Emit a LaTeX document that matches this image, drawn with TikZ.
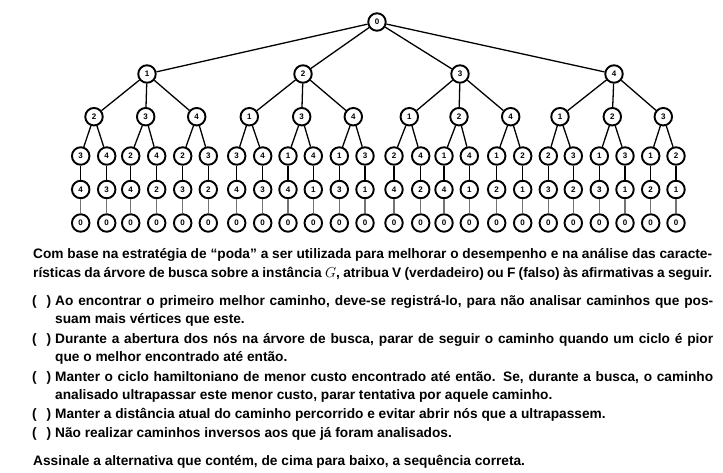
\documentclass[tikz,border=0pt]{standalone}
\usepackage{fontspec}
\setmainfont{Liberation Sans}
\begin{document}
\begin{tikzpicture}[x=1pt,y=-1pt,
  nd/.style={circle,draw,line width=1.9pt,minimum size=17.5pt,inner sep=0pt,font=\fontsize{8}{8}\selectfont\bfseries},
  ed/.style={line width=1.3pt},
  edl/.style={line width=1.1pt,black!55},
  txt/.style={anchor=base west,inner sep=0pt,font=\fontsize{13.7}{16}\selectfont\bfseries}]
\useasboundingbox[fill=white] (0,0) rectangle (723,472);
% tree
\node[nd] (r) at (377,22) {0};
\foreach \x/\l [count=\i] in {147/1,303/2,460/3,614/4}
  \node[nd] (a\i) at (\x,74) {\l};
\foreach \x/\l [count=\i] in {94/2,145.7/3,196.7/4,249.3/1,301.7/3,353.3/4,409.3/1,459/2,510.7/4,560/1,612.3/2,663.3/3}
  \node[nd] (b\i) at (\x,116.7) {\l};
\foreach \x/\l/\m [count=\i] in {80.7/3/4,106.7/4/3,130.7/2/4,156.7/4/2,182.7/2/3,208.3/3/2,
  236.7/3/4,262.7/4/3,288/1/4,313.3/4/1,339.3/1/3,365/3/1,
  394/2/4,420.7/4/2,444/1/4,469.3/4/1,496.7/1/2,522.7/2/1,
  548.3/2/3,573.3/3/2,599.3/1/3,625/3/1,650.7/1/2,676/2/1}{
  \node[nd] (c\i) at (\x,156) {\l};
  \node[nd] (d\i) at (\x,189.5) {\m};
  \node[nd] (e\i) at (\x,223) {0};
  \draw[ed] (c\i) -- (d\i);
  \draw[edl] (d\i) -- (e\i);
}
\foreach \i in {1,...,4}{
  \draw[ed] (r) -- (a\i);
  \foreach \k in {0,1,2}{
    \pgfmathtruncatemacro{\j}{3*\i-2+\k}
    \draw[ed] (a\i) -- (b\j);
  }
}
\foreach \j in {1,...,12}{
  \pgfmathtruncatemacro{\p}{2*\j-1}
  \pgfmathtruncatemacro{\q}{2*\j}
  \draw[ed] (b\j) -- (c\p);
  \draw[ed] (b\j) -- (c\q);
}
% text
\node[txt] (t1) at (33,258) {\hbox to 679pt{Com base na estratégia de “poda” a ser utilizada para melhorar o desempenho e na análise das caracte-}};
\node[txt] (t2) at (33,277) {\hbox to 679pt{rísticas da árvore de busca sobre a instância $G$, atribua V (verdadeiro) ou F (falso) às afirmativas a seguir.}};
\foreach \y [count=\i] in {305,343,381,418,437}
  \node[txt] (p\i) at (32,\y) {(\hspace{10pt})};
\node[txt] (i1a) at (55,305) {\hbox to 658pt{Ao encontrar o primeiro melhor caminho, deve-se registrá-lo, para não analisar caminhos que pos-}};
\node[txt] (i1b) at (55,323) {suam mais vértices que este.};
\node[txt] (i2a) at (55,343) {\hbox to 658pt{Durante a abertura dos nós na árvore de busca, parar de seguir o caminho quando um ciclo é pior}};
\node[txt] (i2b) at (55,361) {que o melhor encontrado até então.};
\node[txt] (i3a) at (55,381) {\hbox to 658pt{Manter o ciclo hamiltoniano de menor custo encontrado até então. Se, durante a busca, o caminho}};
\node[txt] (i3b) at (55,399) {analisado ultrapassar este menor custo, parar tentativa por aquele caminho.};
\node[txt] (i4) at (55,418) {Manter a distância atual do caminho percorrido e evitar abrir nós que a ultrapassem.};
\node[txt] (i5) at (55,437) {Não realizar caminhos inversos aos que já foram analisados.};
\node[txt] (fin) at (33,465) {Assinale a alternativa que contém, de cima para baixo, a sequência correta.};
\end{tikzpicture}
\end{document}
